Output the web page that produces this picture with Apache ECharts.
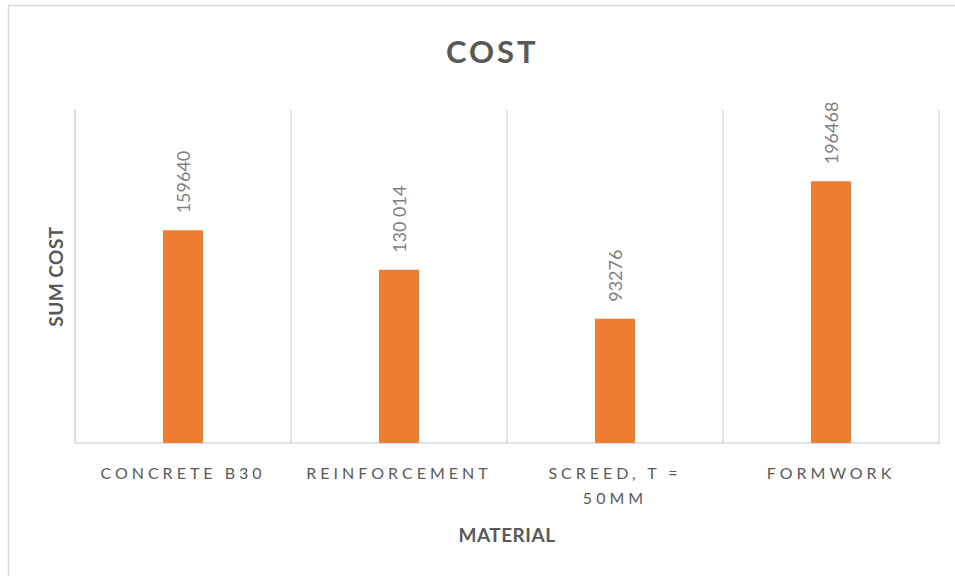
<!DOCTYPE html>
<html>
<head>
<meta charset="utf-8">
<script src="https://cdn.jsdelivr.net/npm/echarts@6/dist/echarts.min.js"></script>
<style>
html,body{margin:0;padding:0;background:#fff;}
#c{width:955px;height:576px;}
</style>
</head>
<body>
<div id="c"></div>
<script>
const categories = ["CONCRETE B30", "REINFORCEMENT", "SCREED, T = 50MM", "FORMWORK"];
const costValues = [159640, 130014, 93276, 196468];
const valueLabels = ["159640", "130 014", "93276", "196468"];
const titleText = "COST";
const yAxisName = "SUM COST";
const xAxisName = "MATERIAL";

const chart = echarts.init(document.getElementById('c'), null, {renderer: 'svg'});
const option = {
  animation: false,
  backgroundColor: '#fff',
  title: {
    text: titleText,
    left: 441,
    top: 30,
    textStyle: {fontFamily: 'Lato', fontWeight: 'bold', fontSize: 31, color: '#595959'}
  },
  graphic: [{
    type: 'rect',
    shape: {x: 8.5, y: 5.5, width: 960, height: 590},
    style: {fill: 'none', stroke: '#d9d9d9', lineWidth: 1.5},
    silent: true
  }],
  grid: {left: 75, right: 16, top: 110, bottom: 133},
  xAxis: {
    type: 'category',
    data: categories,
    name: xAxisName,
    nameLocation: 'middle',
    nameGap: 82,
    nameTextStyle: {fontFamily: 'Lato', fontWeight: 'bold', fontSize: 19, color: '#595959'},
    axisLine: {lineStyle: {color: '#d9d9d9', width: 1.5}},
    axisTick: {show: false},
    splitLine: {show: true, lineStyle: {color: '#d9d9d9', width: 1.5}},
    axisLabel: {
      interval: 0,
      margin: 17,
      fontFamily: 'Lato',
      fontSize: 16,
      lineHeight: 25,
      color: '#595959',
      formatter: function (v) { return v.replace('= ', '=\n'); }
    }
  },
  yAxis: {
    type: 'value',
    min: 0,
    max: 250000,
    name: yAxisName,
    nameLocation: 'middle',
    nameGap: 10,
    nameTextStyle: {fontFamily: 'Lato', fontWeight: 'bold', fontSize: 19, color: '#595959'},
    axisLine: {show: true, lineStyle: {color: '#d9d9d9', width: 1.5}},
    axisTick: {show: false},
    axisLabel: {show: false},
    splitLine: {show: false}
  },
  series: [{
    type: 'bar',
    data: costValues,
    barWidth: 40,
    itemStyle: {color: '#ED7D31'},
    label: {
      show: true,
      position: 'top',
      rotate: 90,
      distance: 17,
      align: 'left',
      verticalAlign: 'middle',
      fontFamily: 'Lato',
      fontSize: 18,
      color: '#7f7f7f',
      formatter: function (p) { return valueLabels[p.dataIndex]; }
    }
  }]
};
chart.setOption(option);

function spaceText() {
  const texts = document.querySelectorAll('#c svg text');
  texts.forEach(function (t) {
    const s = t.textContent;
    if (categories.some(function (c) { return c.indexOf(s) >= 0 && s.length > 2; }) || s === '50MM') {
      t.setAttribute('letter-spacing', '4');
    } else if (s === titleText) {
      t.setAttribute('letter-spacing', '3');
    } else if (s === xAxisName || s === yAxisName) {
      t.setAttribute('letter-spacing', '0.5');
    }
  });
}
chart.on('finished', spaceText);
spaceText();
</script>
</body>
</html>
